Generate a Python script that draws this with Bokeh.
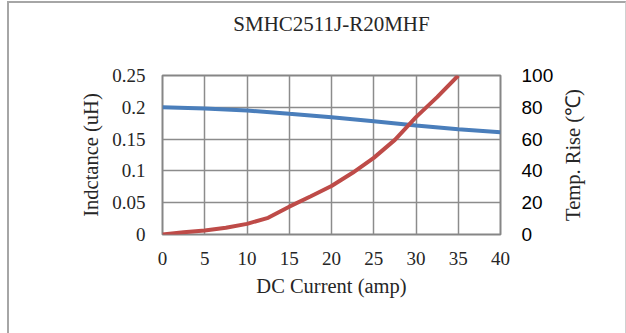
from bokeh.plotting import figure
from bokeh.layouts import row
from bokeh.models import (LinearAxis, Range1d, FixedTicker, CustomJSTickFormatter)
from bokeh.embed import file_html
from bokeh.resources import INLINE

# data
current = [0, 5, 10, 15, 20, 25, 30, 35, 40]
inductance = [0.2002, 0.1981, 0.195, 0.1897, 0.1845, 0.1782, 0.1714, 0.1656, 0.1609]
temp_current = [0, 2.5, 5, 7.5, 10, 12.5, 15, 17.5, 20, 22.5, 25, 27.5, 30, 32.5, 35]
temp_rise = [0, 1.4, 2.5, 4.2, 6.7, 10.5, 17.5, 23.9, 30.5, 38.8, 48.2, 59.5, 73.8, 86.4, 100]
x_ticks = [0, 5, 10, 15, 20, 25, 30, 35, 40]
left_ticks = [0, 0.05, 0.1, 0.15, 0.2, 0.25]
right_ticks = [0, 20, 40, 60, 80, 100]
title_text = "SMHC2511J-R20MHF"
x_label = "DC Current (amp)"
left_label = "Indctance (uH)"
right_label = "Temp. Rise (℃)"

SERIF = "Liberation Serif"
SANS = "Liberation Sans"

p = figure(width=549, height=330, output_backend="svg", toolbar_location=None,
           title=None,
           x_range=Range1d(0, 40), y_range=Range1d(0, 0.25),
           min_border_left=153, min_border_right=58, min_border_top=72,
           min_border_bottom=99)
p.extra_y_ranges = {"temp": Range1d(0, 100)}

p.outline_line_color = "#868686"
p.outline_line_width = 2
p.background_fill_color = "white"
p.border_fill_color = "white"

for g in (p.xgrid, p.ygrid):
    g.grid_line_color = "#8c8c8c"
    g.grid_line_width = 1.5
p.xgrid.ticker = FixedTicker(ticks=x_ticks)
p.ygrid.ticker = FixedTicker(ticks=left_ticks)

fmt = CustomJSTickFormatter(code="return tick.toString();")

xa = p.xaxis[0]
xa.ticker = FixedTicker(ticks=x_ticks)
xa.formatter = fmt
xa.axis_label = x_label
ya = p.yaxis[0]
ya.ticker = FixedTicker(ticks=left_ticks)
ya.formatter = fmt
ya.axis_label = left_label

ra = LinearAxis(y_range_name="temp", ticker=FixedTicker(ticks=right_ticks),
                formatter=fmt)
p.add_layout(ra, "right")

# chart title drawn as the label of an empty top axis
ta = LinearAxis(ticker=FixedTicker(ticks=[]), axis_label=title_text,
                bounds=(0, 38.26))
p.add_layout(ta, "above")

# narrow side figure carrying the right-hand axis title (reads bottom to top)
# same top/bottom borders as the main figure so the row keeps the frames aligned
p2 = figure(width=67, height=330, output_backend="svg", toolbar_location=None,
            title=None, x_range=Range1d(0, 1), y_range=Range1d(0, 1),
            x_axis_location=None,
            min_border_left=0, min_border_right=0, min_border_top=72,
            min_border_bottom=99)
p2.outline_line_color = None
p2.background_fill_color = "white"
p2.border_fill_color = "white"
p2.xgrid.visible = False
p2.ygrid.visible = False
rt = p2.yaxis[0]
rt.ticker = FixedTicker(ticks=[])
rt.axis_label = right_label

for ax in (xa, ya, ra, ta, rt):
    ax.axis_line_color = None
    ax.major_tick_line_color = None
    ax.minor_tick_line_color = None
    ax.major_tick_out = 0
    ax.major_tick_in = 0
    ax.minor_tick_out = 0
    ax.minor_tick_in = 0
    ax.major_label_text_font = SERIF
    ax.major_label_text_font_size = "19px"
    ax.major_label_text_color = "#262626"
    ax.axis_label_text_font = SERIF
    ax.axis_label_text_font_size = "20.5px"
    ax.axis_label_text_font_style = "normal"
    ax.axis_label_text_color = "#262626"

ra.major_label_text_font = SANS
ra.major_label_text_color = "black"
xa.major_label_standoff = 17
xa.axis_label_standoff = 7
ya.major_label_standoff = 17
ya.axis_label_standoff = 7
ra.major_label_standoff = 21
rt.major_label_standoff = 0
rt.axis_label_standoff = 0
ta.axis_label_text_font_size = "21px"
ta.axis_label_standoff = 40

p.line(current, inductance, line_color="#4a7ebb", line_width=4)
p.line(temp_current, temp_rise, line_color="#be4b48", line_width=4, y_range_name="temp")

layout = row(p, p2, margin=(1, 0, 0, 7),
             styles={"border-top": "2px solid #a6a6a6",
                     "border-left": "2px solid #a6a6a6",
                     "border-right": "1px solid #d0d0d0"})

open("out.html", "w").write(file_html(layout, INLINE))
